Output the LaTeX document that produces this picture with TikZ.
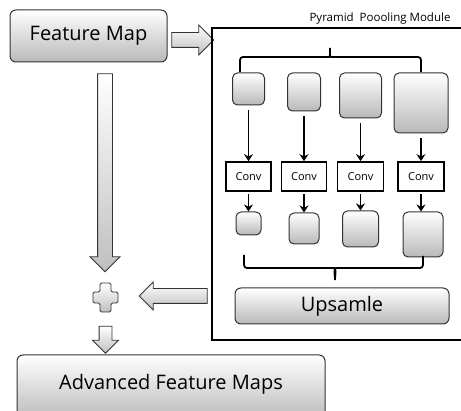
\documentclass[tikz,border=0pt]{standalone}
\usepackage{fontspec}
\setmainfont{Open Sans}
\usetikzlibrary{arrows.meta,shapes.arrows}

\begin{document}
\begin{tikzpicture}[x=1pt,y=-1pt]
\tikzset{
  gbox/.style={draw=black!80, line width=1pt, rounded corners=6pt,
    top color=white, bottom color=gray!55, inner sep=0pt},
  poolbox/.style={gbox, rounded corners=5pt},
  convbox/.style={draw, line width=1.7pt, fill=white, minimum height=29pt,
    inner sep=0pt, font=\fontsize{11}{13}\selectfont},
  bigarrow/.style={single arrow, draw=black!80, line width=0.8pt,
    top color=white, bottom color=gray!50, inner xsep=0pt, inner ysep=7pt,
    single arrow head extend=7.5pt, outer sep=0pt},
  flow/.style={line width=1.8pt, -{Stealth[length=7pt,width=9pt]}},
  brace/.style={line width=1.8pt, rounded corners=3pt}
}
\useasboundingbox (0,0) rectangle (461,411);
\clip (0,0) rectangle (461,411);

% input
\node[gbox, minimum width=157pt, minimum height=52pt,
  font=\fontsize{20}{24}\selectfont] (fmap) at (88.5,36) {Feature Map};
\node[bigarrow, minimum height=42pt] (toppm) at (189,40) {};

% pyramid pooling module
\node[draw, line width=2pt, minimum width=259pt, minimum height=312pt,
  anchor=north west, inner sep=0pt] (ppm) at (211,27) {};
\node[anchor=south, font=\fontsize{11.5}{13}\selectfont, inner sep=1pt]
  (ppmlabel) at (380,25) {Pyramid\ \ Poooling Module};

\draw[brace] (240,72) |- (326,57) to[out=0,in=-90] (330,46)
  to[out=-90,in=180] (334,57) -| (421,72);

\node[poolbox, minimum width=32pt, minimum height=32pt] (p1) at (248.5,89) {};
\node[poolbox, minimum width=33pt, minimum height=38pt] (p2) at (304,92) {};
\node[poolbox, minimum width=42pt, minimum height=45pt] (p3) at (360.5,95.5) {};
\node[poolbox, minimum width=54pt, minimum height=60pt] (p4) at (421,103) {};

\node[convbox, minimum width=45pt] (c1) at (248.5,176.5) {Conv};
\node[convbox, minimum width=45pt] (c2) at (304,176.5) {Conv};
\node[convbox, minimum width=46pt] (c3) at (360.5,176.5) {Conv};
\node[convbox, minimum width=46pt] (c4) at (421,176.5) {Conv};

\node[poolbox, minimum width=25pt, minimum height=23pt] (s1) at (248.5,223.5) {};
\node[poolbox, minimum width=30pt, minimum height=31pt] (s2) at (304,228.5) {};
\node[poolbox, minimum width=36pt, minimum height=36pt] (s3) at (360.5,229) {};
\node[poolbox, minimum width=40pt, minimum height=45pt] (s4) at (423,234.5) {};

\foreach \i in {1,...,4}{
  \draw[flow, shorten <=5pt] (p\i.south) -- (c\i.north);
  \draw[flow, shorten <=2pt] (c\i.south) -- (c\i.south |- s\i.north);
}

\draw[brace] (244,255) |- (331,268) to[out=0,in=90] (335,282)
  to[out=90,in=180] (339,268) -| (423,256);

\node[gbox, minimum width=214pt, minimum height=36pt,
  font=\fontsize{20}{24}\selectfont] (up) at (342,306) {Upsamle};

% merge
\node[bigarrow, minimum height=198pt, rotate=-90] (down) at (105,169) {};
\node[bigarrow, minimum height=68pt, rotate=180,
  single arrow head extend=6.5pt] (back) at (177,296) {};
\coordinate (plus) at (105.5,297.5);
\draw[draw=black!80, line width=0.8pt, top color=white, bottom color=gray!50,
  rounded corners=1.5pt, shift={(plus)}]
  (-5.5,-14.5) -- (5.5,-14.5) -- (5.5,-5.5) -- (12.5,-5.5) -- (12.5,5.5)
  -- (5.5,5.5) -- (5.5,14.5) -- (-5.5,14.5) -- (-5.5,5.5) -- (-12.5,5.5)
  -- (-12.5,-5.5) -- (-5.5,-5.5) -- cycle;
\node[bigarrow, minimum height=27pt, rotate=-90, inner ysep=6pt,
  single arrow head extend=6.5pt] (toout) at (105.5,336.5) {};

% output
\node[gbox, minimum width=308pt, minimum height=66pt,
  font=\fontsize{20}{24}\selectfont, text depth=12pt] (out) at (171,388) {Advanced Feature Maps};
\end{tikzpicture}
\end{document}
